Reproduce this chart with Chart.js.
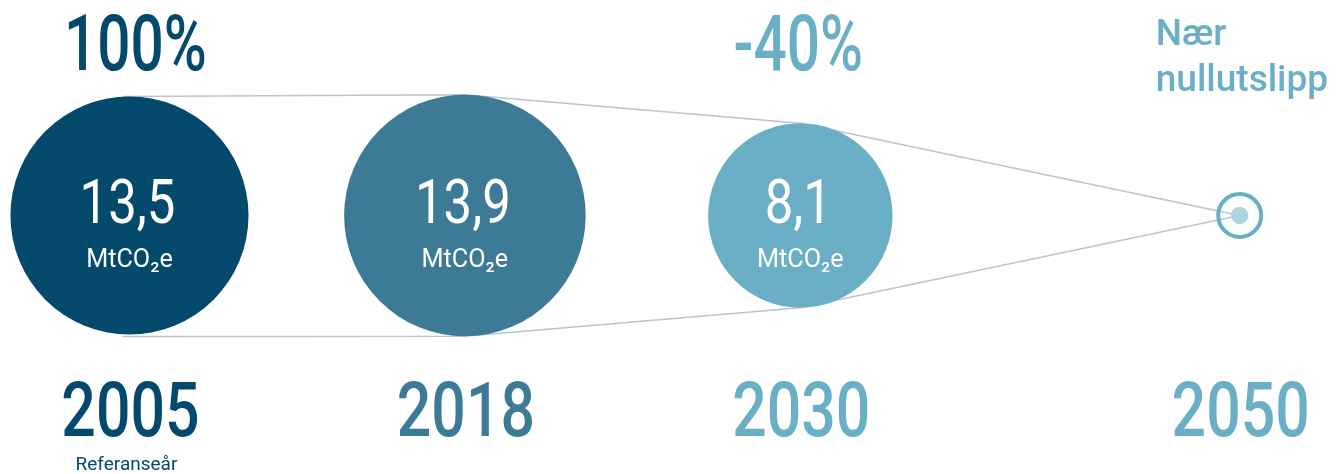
<!DOCTYPE html>
<html><head><meta charset="utf-8">
<script src="https://cdn.jsdelivr.net/npm/chart.js@4"></script>
<style>html,body{margin:0;padding:0;background:#fff;overflow:hidden}#wrap{width:1339px;height:474px;position:relative}</style>
</head><body><div id="wrap"><canvas id="c"></canvas></div>
<script>
// ---- data ----
const years = ['2005', '2018', '2030', '2050'];
const emissions = [13.5, 13.9, 8.1, 0];          // MtCO2e
const valueLabels = ['13,5', '13,9', '8,1', ''];
const unitLabel = 'MtCO₂e';
const shareLabels = ['100%', '', '-40%', ''];
const targetLines = ['Nær', 'nullutslipp'];
const yearNotes = ['Referanseår', '', '', ''];

// ---- layout / style ----
const slots = [0, 1, 2, 3.31];
const colors = ['#03496c', '#3c7a96', '#6aafc6', '#6aafc6'];
const dotColor = '#aad4df';
const lineColor = '#b9c5d1';
const K = 32.4;
const radiusOf = v => v > 0 ? K * Math.sqrt(v) : 21.5;
const FONT = 'Roboto, "DejaVu Sans", sans-serif';

function txt(ctx, s, x, y, font, color, sx = 1, align = 'center') {
  ctx.save();
  ctx.font = font; ctx.fillStyle = color; ctx.textAlign = align; ctx.textBaseline = 'alphabetic';
  ctx.translate(x, y); ctx.scale(sx, 1); ctx.fillText(s, 0, 0);
  ctx.restore();
}

const connectors = {
  id: 'connectors',
  beforeDatasetsDraw(chart) {
    const ctx = chart.ctx, xs = chart.scales.x, ys = chart.scales.y;
    const pts = years.map((y, i) => ({ x: xs.getPixelForValue(slots[i]), y: ys.getPixelForValue(0), r: radiusOf(emissions[i]) }));
    const last = pts.length - 1;
    ctx.save();
    ctx.strokeStyle = lineColor; ctx.lineWidth = 1.5;
    [-1, 1].forEach(sgn => {
      ctx.beginPath();
      pts.forEach((p, i) => {
        const px = i === 0 ? p.x - 7 : p.x;
        const py = i === last ? p.y : p.y + sgn * p.r + (sgn > 0 && i === 0 ? 2 : 0);
        if (i === 0) ctx.moveTo(px, py); else ctx.lineTo(px, py);
      });
      ctx.stroke();
    });
    ctx.restore();
  }
};

const labels = {
  id: 'labels',
  afterDatasetsDraw(chart) {
    const ctx = chart.ctx, xs = chart.scales.x, ys = chart.scales.y;
    const cy = ys.getPixelForValue(0);
    years.forEach((yr, i) => {
      const px = xs.getPixelForValue(slots[i]);
      if (valueLabels[i]) {
        txt(ctx, valueLabels[i], px - 2, cy + 8, '400 62px ' + FONT, '#ffffff', 0.82);
        txt(ctx, unitLabel, px, cy + 52, '400 26px ' + FONT, '#ffffff', 0.97);
      }
      txt(ctx, yr, px + 1, 436, '500 76px ' + FONT, colors[i], 0.8);
      if (shareLabels[i]) {
        txt(ctx, shareLabels[i], px + (i === 0 ? 6 : -2), 70, '500 77px ' + FONT, colors[i], 0.76);
      }
      if (yearNotes[i]) {
        txt(ctx, yearNotes[i], px - 3, 470, '400 19px ' + FONT, colors[i], 1);
      }
      if (i === years.length - 1) {
        txt(ctx, targetLines[0], px - 84, 45, '500 37px ' + FONT, colors[i], 1, 'left');
        txt(ctx, targetLines[1], px - 84, 91, '500 37px ' + FONT, colors[i], 1, 'left');
      }
    });
  }
};

const pts = years.map((y, i) => ({ x: slots[i], y: 0 }));
new Chart(document.getElementById('c'), {
  type: 'scatter',
  data: {
    datasets: [
      {
        label: 'Nullutslipp',
        order: 0, clip: false,
        data: [pts[pts.length - 1]],
        pointRadius: 8.7, pointHoverRadius: 8.7,
        backgroundColor: dotColor, borderWidth: 0
      },
      {
        label: 'Utslipp',
        order: 1, clip: false,
        data: pts,
        pointRadius: c => radiusOf(emissions[c.dataIndex]),
        pointHoverRadius: c => radiusOf(emissions[c.dataIndex]),
        backgroundColor: c => emissions[c.dataIndex] > 0 ? colors[c.dataIndex] : 'rgba(0,0,0,0)',
        borderColor: c => colors[c.dataIndex],
        borderWidth: c => emissions[c.dataIndex] > 0 ? 0 : 4,
        hoverBorderWidth: c => emissions[c.dataIndex] > 0 ? 0 : 4
      }
    ]
  },
  options: {
    responsive: true, maintainAspectRatio: false, animation: false,
    events: [],
    layout: { padding: 0, autoPadding: false },
    plugins: { legend: { display: false }, tooltip: { enabled: false } },
    scales: {
      x: { type: 'linear', display: false, min: -0.386, max: 3.606 },
      y: { type: 'linear', display: false, min: -1.2, max: 1 }
    }
  },
  plugins: [connectors, labels]
});
</script>
</body></html>
